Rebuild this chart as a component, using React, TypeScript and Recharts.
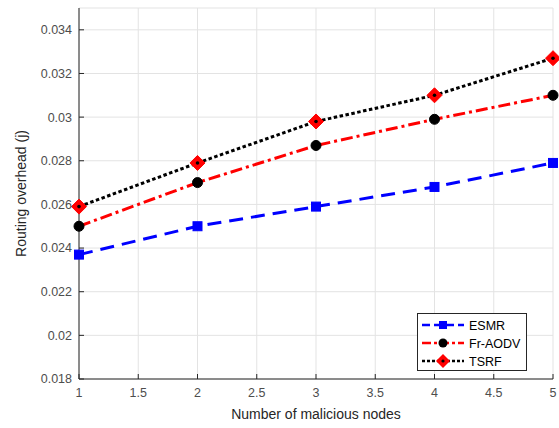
import React from "react";
import { LineChart, Line, XAxis, YAxis, CartesianGrid, Label } from "recharts";

const nodes = [1, 2, 3, 4, 5];
const esmr = [0.0237, 0.025, 0.0259, 0.0268, 0.0279];
const frAodv = [0.025, 0.027, 0.0287, 0.0299, 0.031];
const tsrf = [0.0259, 0.0279, 0.0298, 0.031, 0.0327];
const xTicks = [1, 1.5, 2, 2.5, 3, 3.5, 4, 4.5, 5];
const yTicks = [0.018, 0.02, 0.022, 0.024, 0.026, 0.028, 0.03, 0.032, 0.034];

const data = nodes.map((n, i) => ({ n, esmr: esmr[i], fr: frAodv[i], tsrf: tsrf[i] }));

const FONT = "Liberation Sans, Arial, sans-serif";
const TXT = "#4d4d4d";
const AX = "#262626";

const Square = (props: any) => {
  const { cx, cy } = props;
  if (cx == null || cy == null) return null;
  return <rect x={cx - 4.5} y={cy - 4.5} width={9} height={9} fill="#0000ff" stroke="#0000ff" />;
};
const Circle = (props: any) => {
  const { cx, cy } = props;
  if (cx == null || cy == null) return null;
  return <circle cx={cx} cy={cy} r={5} fill="#000" stroke="#000" />;
};
const Diamond = (props: any) => {
  const { cx, cy } = props;
  if (cx == null || cy == null) return null;
  const r = 7.5;
  return (
    <g>
      <polygon points={`${cx},${cy - r} ${cx + r},${cy} ${cx},${cy + r} ${cx - r},${cy}`} fill="#ff0000" stroke="#ff0000" />
      <circle cx={cx} cy={cy} r={1.8} fill="#000" />
    </g>
  );
};

const legendItems = [
  { name: "ESMR", color: "#0000ff", dash: "8 4", marker: "square" },
  { name: "Fr-AODV", color: "#ff0000", dash: "9 3 3 3", marker: "circle" },
  { name: "TSRF", color: "#000000", dash: "3 2", marker: "diamond" },
];

const LegendBox = () => (
  <svg width={110} height={58} style={{ display: "block" }}>
    <rect x={0.5} y={0.5} width={109} height={57} fill="#fff" stroke={AX} strokeWidth={1} />
    {legendItems.map((it, i) => {
      const y = 12 + i * 18;
      const cx = 26;
      return (
        <g key={it.name}>
          <line x1={5} x2={47} y1={y} y2={y} stroke={it.color} strokeWidth={2.5} strokeDasharray={it.dash} />
          {it.marker === "square" && <rect x={cx - 4} y={y - 4} width={8} height={8} fill="#0000ff" />}
          {it.marker === "circle" && <circle cx={cx} cy={y} r={4.5} fill="#000" />}
          {it.marker === "diamond" && (
            <g>
              <polygon points={`${cx},${y - 7} ${cx + 7},${y} ${cx},${y + 7} ${cx - 7},${y}`} fill="#ff0000" />
              <circle cx={cx} cy={y} r={1.6} fill="#000" />
            </g>
          )}
          <text x={52} y={y + 4.5} fontSize={12.5} fontFamily={FONT} fill="#000">{it.name}</text>
        </g>
      );
    })}
  </svg>
);

export default function App() {
  return (
    <div style={{ position: "absolute", left: 0, top: 0, width: 559, height: 428, background: "#fff" }}>
      <LineChart width={559} height={428} data={data} margin={{ top: 8, right: 6, bottom: 0, left: 0 }}>
        <CartesianGrid stroke="#e3e3e3" strokeWidth={1} />
        <XAxis
          dataKey="n"
          type="number"
          domain={[1, 5]}
          ticks={xTicks}
          height={49}
          stroke={AX}
          tickSize={-5}
          tickMargin={14}
          tick={{ fill: TXT, fontSize: 12.5, fontFamily: FONT }}
          tickFormatter={(v: number) => String(v)}
        >
          <Label value="Number of malicious nodes" position="insideBottom" offset={9} fill="#262626" fontSize={14} fontFamily={FONT} />
        </XAxis>
        <XAxis xAxisId="top" orientation="top" dataKey="n" type="number" domain={[1, 5]} ticks={xTicks} height={0} stroke={AX} tickSize={-5} tick={false} />
        <YAxis
          type="number"
          domain={[0.018, 0.035]}
          ticks={yTicks}
          width={79}
          stroke={AX}
          tickSize={-5}
          tickMargin={12}
          tick={{ fill: TXT, fontSize: 12.5, fontFamily: FONT }}
          tickFormatter={(v: number) => String(Number(v.toFixed(3)))}
          allowDataOverflow
        >
          <Label value="Routing overhead (j)" angle={-90} position="insideLeft" offset={21} fill="#262626" fontSize={14} fontFamily={FONT} style={{ textAnchor: "middle" }} />
        </YAxis>
        <YAxis yAxisId="right" orientation="right" type="number" domain={[0.018, 0.035]} ticks={yTicks} width={0} stroke={AX} tickSize={-5} tick={false} />
        <Line dataKey="esmr" stroke="#0000ff" strokeWidth={3} strokeDasharray="14 8" dot={<Square />} isAnimationActive={false} />
        <Line dataKey="fr" stroke="#ff0000" strokeWidth={3} strokeDasharray="12 4 3 4" dot={<Circle />} isAnimationActive={false} />
        <Line dataKey="tsrf" stroke="#000000" strokeWidth={3} strokeDasharray="3.5 2.5" dot={<Diamond />} isAnimationActive={false} />
      </LineChart>
      <div style={{ position: "absolute", left: 417, top: 313 }}>
        <LegendBox />
      </div>
    </div>
  );
}
